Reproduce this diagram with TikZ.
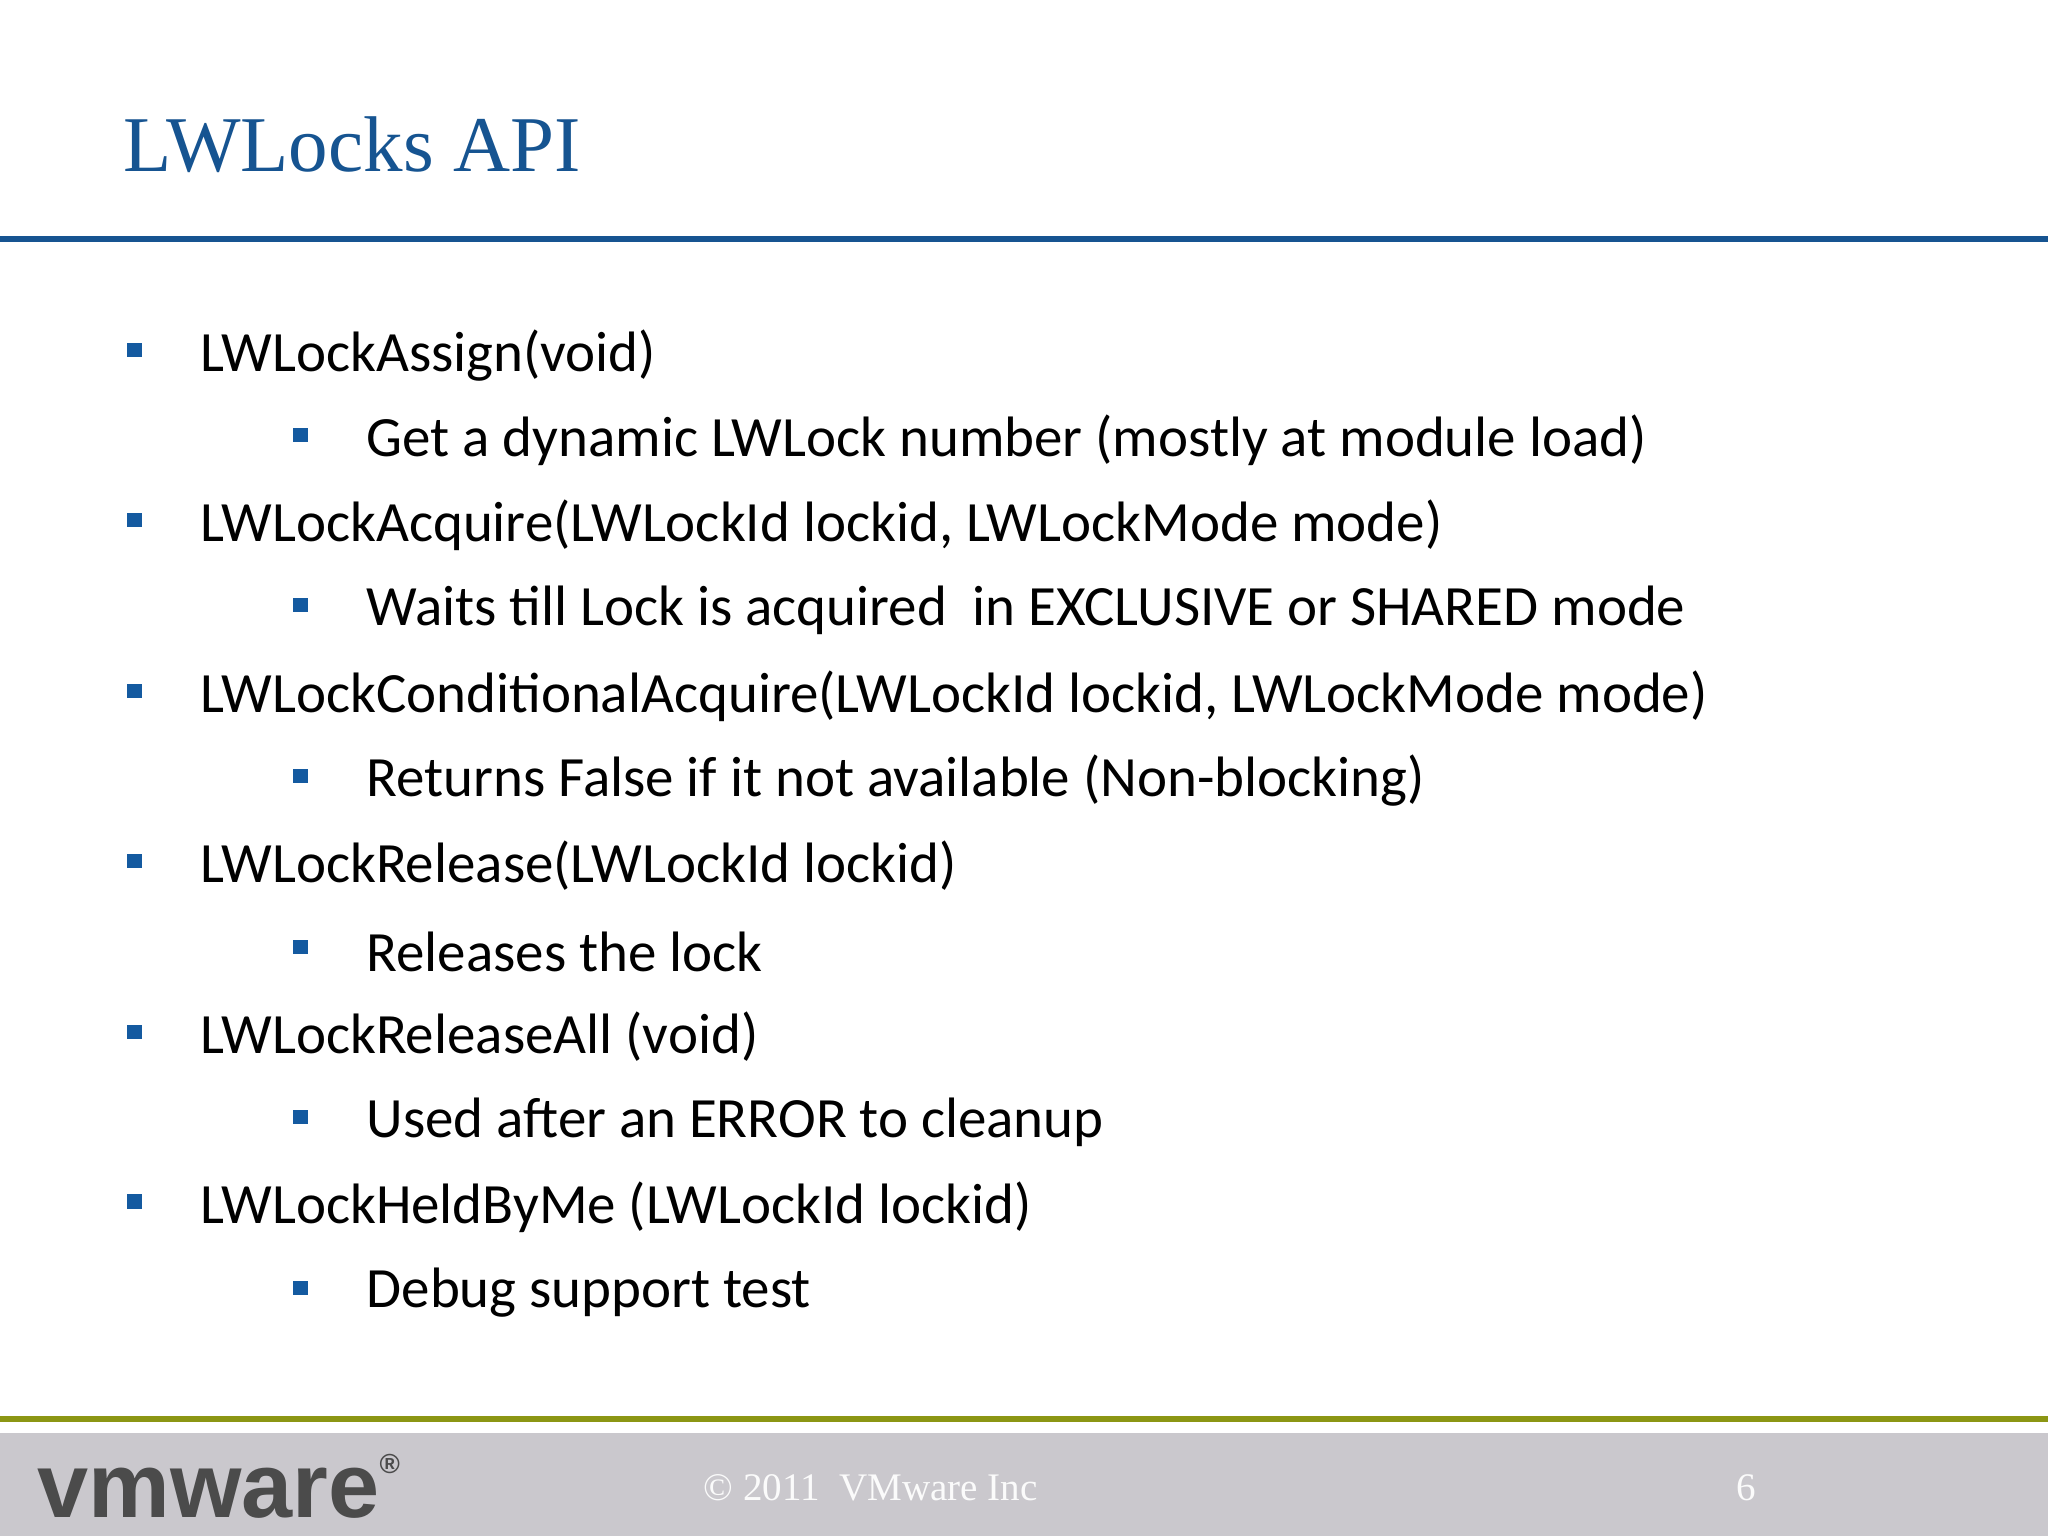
\documentclass[tikz,border=0pt]{standalone}
\usepackage{fontspec}
\setmainfont{Carlito}
\newfontfamily\titlefont{Liberation Serif}
\newfontfamily\logofont{Liberation Sans}
\definecolor{tblue}{RGB}{22,84,145}
\definecolor{bblue}{RGB}{20,90,160}
\definecolor{olive}{RGB}{140,150,20}
\definecolor{band}{RGB}{202,200,205}
\definecolor{logo}{RGB}{75,75,75}
\tikzset{
  lone/.style={anchor=west,inner sep=0pt,font=\fontsize{12.4pt}{14pt}\selectfont},
  bul/.style={fill=bblue,minimum size=0.11cm,inner sep=0pt}
}
\begin{document}
\begin{tikzpicture}[x=0.01cm,y=-0.01cm]
\useasboundingbox (0,0) rectangle (1568,1176);
\fill[white] (0,0) rectangle (1568,1176);
\node[anchor=west,inner sep=0pt,text=tblue,font=\titlefont\fontsize{17.2pt}{20pt}\selectfont] (title) at (94,111) {LWLocks API};
\fill[tblue] (0,181) rectangle (1568,185);
\fill[olive] (0,1084) rectangle (1568,1089);
\fill[band] (0,1097) rectangle (1568,1176);
\node[anchor=west,inner sep=0pt,text=logo,font=\logofont\bfseries\fontsize{20pt}{24pt}\selectfont] (logo) at (28,1138) {vmware\raisebox{0.9ex}{\fontsize{6pt}{7pt}\selectfont\textregistered}};
\node[anchor=west,inner sep=0pt,text=white!93!band,font=\titlefont\fontsize{8.5pt}{10pt}\selectfont] (copy) at (538,1139) {© 2011\ \ VMware Inc};
\node[anchor=center,inner sep=0pt,text=white!93!band,font=\titlefont\fontsize{8.5pt}{10pt}\selectfont] (pg) at (1337,1139) {6};
\foreach \y/\lvl/\t [count=\i] in {
 270/1/{LWLockAssign(void)},
 335/2/{Get a dynamic LWLock number (mostly at module load)},
 400/1/{LWLockAcquire(LWLockId lockid, LWLockMode mode)},
 465/2/{Waits till Lock is acquired\ \ in EXCLUSIVE or SHARED mode},
 531/1/{LWLockConditionalAcquire(LWLockId lockid, LWLockMode mode)},
 596/2/{Returns False if it not available (Non-blocking)},
 661/1/{LWLockRelease(LWLockId lockid)},
 727/2/{Releases the lock},
 792/1/{LWLockReleaseAll (void)},
 857/2/{Used after an ERROR to cleanup},
 922/1/{LWLockHeldByMe (LWLockId lockid)},
 988/2/{Debug support test}}{
  \pgfmathsetmacro{\bx}{\lvl==1 ? 103 : 230}
  \pgfmathsetmacro{\tx}{\lvl==1 ? 153 : 280}
  \node[bul] (b\i) at (\bx,\y-2) {};
  \node[lone] (t\i) at (\tx,\y+2) {\t};
}
\end{tikzpicture}
\end{document}
